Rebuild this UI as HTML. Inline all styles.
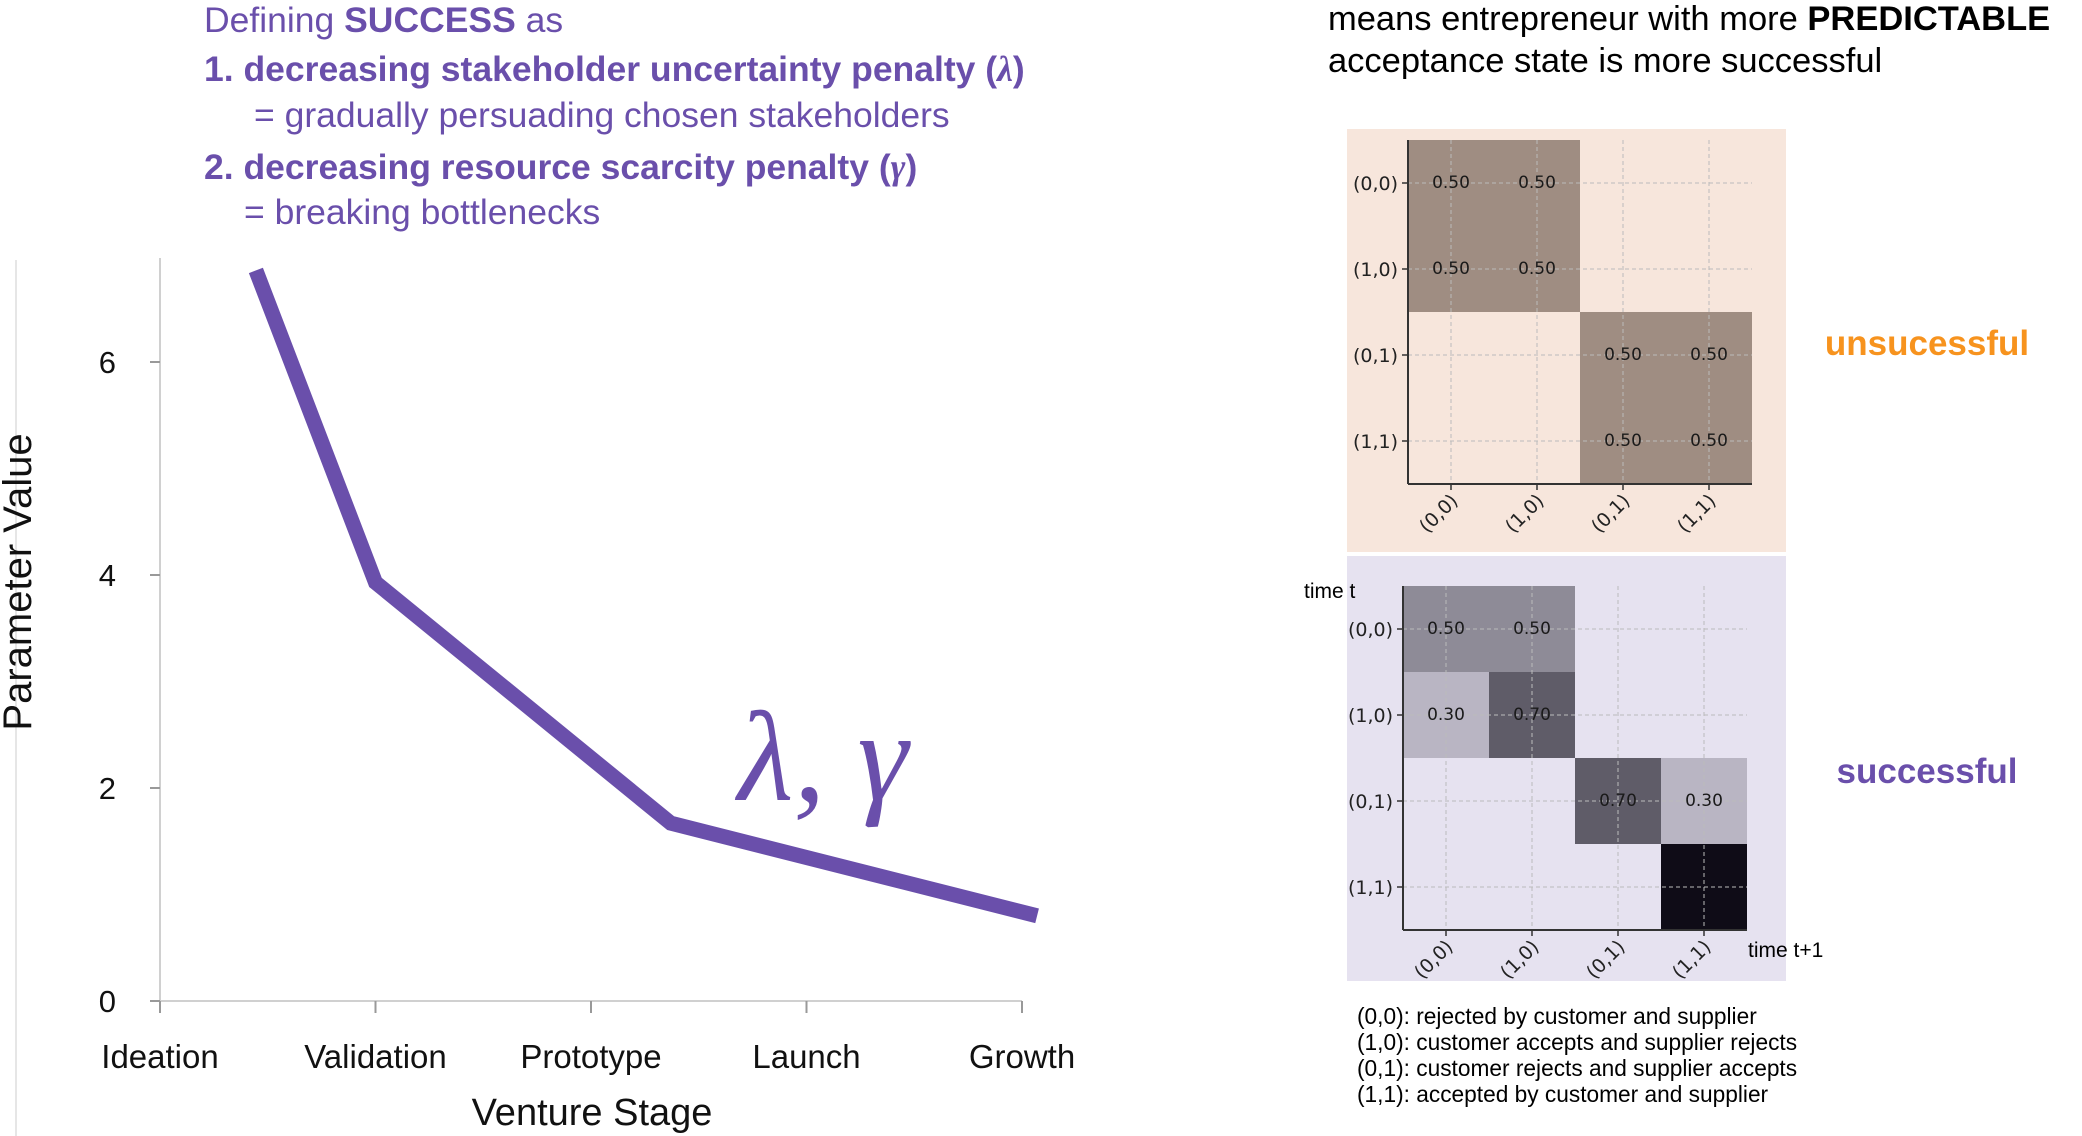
<!DOCTYPE html>
<html><head><meta charset="utf-8">
<style>
html,body{margin:0;padding:0;background:#fff;}
body{width:2082px;height:1136px;position:relative;overflow:hidden;font-family:"Liberation Sans",sans-serif;}
.t{position:absolute;white-space:nowrap;}
.p{color:#6a4fab;font-size:35.5px;}
</style></head>
<body>
<div class="t p" style="left:204px;top:0px;">Defining <b>SUCCESS</b> as</div>
<div class="t p" style="left:204px;top:48px;font-weight:bold;">1. decreasing stakeholder uncertainty penalty (<i style="font-family:'Liberation Serif',serif">λ</i>)</div>
<div class="t p" style="left:254px;top:95px;">= gradually persuading chosen stakeholders</div>
<div class="t p" style="left:204px;top:146px;font-weight:bold;">2. decreasing resource scarcity penalty (<i style="font-family:'Liberation Serif',serif">γ</i>)</div>
<div class="t p" style="left:244px;top:192px;">= breaking bottlenecks</div>

<div class="t" style="left:1328px;top:0px;font-size:34.5px;color:#000;">means entrepreneur with more <b>PREDICTABLE</b></div>
<div class="t" style="left:1328px;top:42px;font-size:34.5px;color:#000;">acceptance state is more successful</div>

<svg width="2082" height="1136" style="position:absolute;left:0;top:0" id="svg"></svg>

<script>
// Line chart data
const stages = ["Ideation","Validation","Prototype","Launch","Growth"];
const lineX = [0.445, 1, 2.37, 4.07];
const lineY = [6.86, 3.93, 1.67, 0.8];
const yTicks = [0,2,4,6];
// Heatmap data
const states = ["(0,0)","(1,0)","(0,1)","(1,1)"];
const unsuccessful = [[0.5,0.5,0,0],[0.5,0.5,0,0],[0,0,0.5,0.5],[0,0,0.5,0.5]];
const successful = [[0.5,0.5,0,0],[0.3,0.7,0,0],[0,0,0.7,0.3],[0,0,0,1.0]];
const legendLines = ["(0,0): rejected by customer and supplier","(1,0): customer accepts and supplier rejects","(0,1): customer rejects and supplier accepts","(1,1): accepted by customer and supplier"];

const NS="http://www.w3.org/2000/svg";
const svg=document.getElementById('svg');
function mk(tag,attrs,parent,text){const e=document.createElementNS(NS,tag);for(const k in attrs)e.setAttribute(k,attrs[k]);if(text!==undefined)e.textContent=text;(parent||svg).appendChild(e);return e;}

const X0=160, XS=215.5, Y0=1001, YS=106.5;
const xs=v=>X0+v*XS, ys=v=>Y0-v*YS;

let e;
e=mk('line',{x1:16,y1:260,x2:16,y2:1136,stroke:'#e6e6e6','stroke-width':2});


e=mk('line',{x1:X0,y1:258,x2:X0,y2:Y0,stroke:'#d0d0d0','stroke-width':2});


e=mk('line',{x1:X0,y1:Y0,x2:xs(4),y2:Y0,stroke:'#d0d0d0','stroke-width':2});


yTicks.forEach(v=>{
  e=mk('line',{x1:X0-10,y1:ys(v),x2:X0,y2:ys(v),stroke:'#999','stroke-width':2});
  
  
  e=mk('text',{x:116,y:ys(v)+11,'font-size':31,'text-anchor':'end',fill:'#111'},svg,String(v));
  
  
});
stages.forEach((s,i)=>{
  e=mk('line',{x1:xs(i),y1:Y0,x2:xs(i),y2:Y0+12,stroke:'#999','stroke-width':2});
  
  
  e=mk('text',{x:xs(i),y:1068,'font-size':33,'text-anchor':'middle',fill:'#111'},svg,s);
  
  
});
e=mk('text',{x:592,y:1125,'font-size':38,'text-anchor':'middle',fill:'#111'},svg,'Venture Stage');


e=mk('text',{x:0,y:0,'font-size':40,'text-anchor':'middle',fill:'#111',transform:'translate(31,582) rotate(-90)'},svg,'Parameter Value');


e=mk('polyline',{points:lineX.map((x,i)=>xs(x)+','+ys(lineY[i])).join(' '),fill:'none',stroke:'#6a4fab','stroke-width':15,'stroke-linejoin':'miter'});


e=mk('text',{x:738,y:800,'font-size':128,fill:'#6a4fab','font-style':'italic','font-family':'Liberation Serif, serif'},svg,'λ, γ');



function heat(data,bg,base,px,py,pw,ph,ax,ay,cs,name){
  const g=mk('g',{});
  
  
  e=mk('rect',{x:px,y:py,width:pw,height:ph,fill:bg},g);
  
  
  data.forEach((row,r)=>row.forEach((v,c)=>{
    if(v>0){
      e=mk('rect',{x:ax+c*cs,y:ay+r*cs,width:cs,height:cs,fill:base,'fill-opacity':Math.pow(v,1.3)},g);
      
      
    }
  }));
  for(let i=0;i<4;i++){
    const c=ax+(i+0.5)*cs, r=ay+(i+0.5)*cs;
    mk('line',{x1:c,y1:ay,x2:c,y2:ay+4*cs,stroke:'#bbb','stroke-width':1,'stroke-dasharray':'4,3'},g);
    mk('line',{x1:ax,y1:r,x2:ax+4*cs,y2:r,stroke:'#bbb','stroke-width':1,'stroke-dasharray':'4,3'},g);
    mk('line',{x1:ax-6,y1:r,x2:ax,y2:r,stroke:'#333','stroke-width':1.5},g);
    mk('line',{x1:c,y1:ay+4*cs,x2:c,y2:ay+4*cs+6,stroke:'#333','stroke-width':1.5},g);
    e=mk('text',{x:ax-10,y:r+7,'font-size':19,'text-anchor':'end',fill:'#222','font-family':'DejaVu Sans, sans-serif'},g,states[i]);
    
    
    e=mk('text',{x:0,y:0,'font-size':19,'text-anchor':'end',fill:'#222','font-family':'DejaVu Sans, sans-serif',transform:`translate(${c+8},${ay+4*cs+18}) rotate(-45)`},g,states[i]);
    
    
  }
  data.forEach((row,r)=>row.forEach((v,c)=>{
    if(v>0&&v<1){
      e=mk('text',{x:ax+(c+0.5)*cs,y:ay+(r+0.5)*cs+5,'font-size':17,'text-anchor':'middle',fill:'#1a1a1a','font-family':'DejaVu Sans, sans-serif'},g,v.toFixed(2));
      
      
    }
  }));
  mk('line',{x1:ax,y1:ay,x2:ax,y2:ay+4*cs,stroke:'#333','stroke-width':2},g);
  mk('line',{x1:ax,y1:ay+4*cs,x2:ax+4*cs,y2:ay+4*cs,stroke:'#333','stroke-width':2},g);
}
heat(unsuccessful,'#f7e6dc','rgb(33,13,1)',1347,129,439,423,1408,140,86,'unsuccessful-heatmap');
heat(successful,'#e6e2f0','rgb(15,12,23)',1347,556,439,425,1403,586,86,'successful-heatmap');

e=mk('text',{x:1304,y:598,'font-size':21,fill:'#000'},svg,'time t');


e=mk('text',{x:1748,y:957,'font-size':21,fill:'#000'},svg,'time t+1');


e=mk('text',{x:1927,y:355,'font-size':35,'font-weight':'bold','text-anchor':'middle',fill:'#f7931e'},svg,'unsucessful');


e=mk('text',{x:1927,y:783,'font-size':35,'font-weight':'bold','text-anchor':'middle',fill:'#6a4fab'},svg,'successful');


legendLines.forEach((s,i)=>{
  e=mk('text',{x:1357,y:1024+i*26,'font-size':22.7,fill:'#000'},svg,s);
  
  
});
</script>
</body></html>
